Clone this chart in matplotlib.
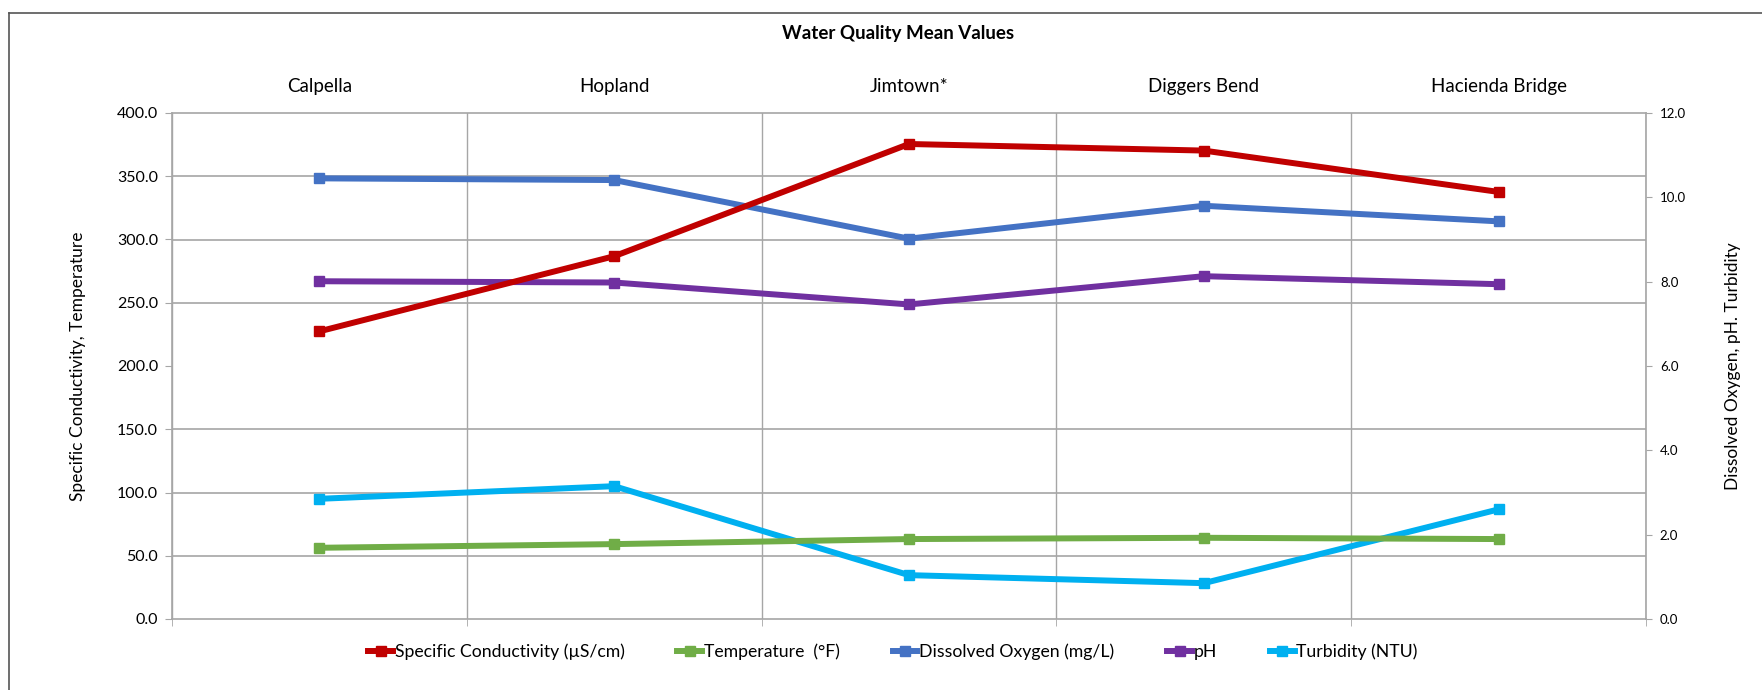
import numpy as np
import matplotlib
matplotlib.use("Agg")
import matplotlib.pyplot as plt
from matplotlib.lines import Line2D

plt.rcParams['font.family'] = ['Lato', 'DejaVu Sans']

sites = ['Calpella', 'Hopland', 'Jimtown*', 'Diggers Bend', 'Hacienda Bridge']

# left axis series
conductivity = [227.4, 286.8, 375.5, 370.3, 337.6]
temperature = [56.3, 59.2, 63.2, 64.2, 63.2]

# right axis series
dissolved_oxygen = [10.45, 10.41, 9.02, 9.80, 9.43]
ph = [8.01, 7.98, 7.46, 8.13, 7.94]
turbidity = [2.85, 3.15, 1.04, 0.85, 2.60]

GRID = '#A6A6A6'
LW = 4.3
MS = 6.5

fig = plt.figure(figsize=(17.62, 6.9), dpi=100)

# base axes carries the right-hand scale, drawn underneath
base = fig.add_axes([172 / 1762, 1 - 619 / 690, (1646 - 172) / 1762, (619 - 113) / 690])
top = base.twinx()
base.set_zorder(1)
top.set_zorder(2)
top.patch.set_visible(False)

x = np.arange(len(sites))

base.plot(x, dissolved_oxygen, color='#4472C4', lw=LW, marker='s', ms=MS, label='Dissolved Oxygen (mg/L)')
base.plot(x, ph, color='#7030A0', lw=LW, marker='s', ms=MS, label='pH')
base.plot(x, turbidity, color='#00B0F0', lw=LW, marker='s', ms=MS, label='Turbidity (NTU)')

top.plot(x, conductivity, color='#C00000', lw=LW, marker='s', ms=MS, label='Specific Conductivity (µS/cm)')
top.plot(x, temperature, color='#70AD47', lw=LW, marker='s', ms=MS, label='Temperature  (°F)')

base.set_xlim(-0.5, len(sites) - 0.5)
base.set_ylim(0, 12)
top.set_ylim(0, 400)

# right scale on base
base.yaxis.tick_right()
base.yaxis.set_label_position('right')
base.set_yticks(np.arange(0, 12.1, 2))
base.set_yticklabels(['%.1f' % v for v in np.arange(0, 12.1, 2)])
base.tick_params(axis='y', which='major', direction='out', length=4, color=GRID,
                 labelsize=9.5, pad=6)
base.set_ylabel('Dissolved Oxygen, pH. Turbidity', fontsize=12.5, labelpad=28)

# horizontal grid matching the left scale (every 50 -> every 1.5)
base.set_yticks(np.arange(0, 12.1, 1.5), minor=True)
base.tick_params(axis='y', which='minor', length=0)
base.grid(True, axis='y', which='minor', color=GRID, lw=1.2)

# category labels on top, boundaries as minor ticks
base.set_xticks(x)
base.set_xticklabels(sites)
base.xaxis.tick_top()
base.tick_params(axis='x', which='major', length=0, labelsize=13.5, pad=13)
base.set_xticks(np.arange(-0.5, len(sites), 1), minor=True)
base.tick_params(axis='x', which='minor', bottom=True, top=False, direction='out',
                 length=5, color=GRID)
base.grid(True, axis='x', which='minor', color=GRID, lw=1)

# left scale on top axes
top.yaxis.tick_left()
top.yaxis.set_label_position('left')
top.set_yticks(np.arange(0, 401, 50))
top.set_yticklabels(['%.1f' % v for v in np.arange(0, 401, 50)])
top.tick_params(axis='y', direction='out', length=5, color=GRID, labelsize=11.5, pad=5)
top.set_ylabel('Specific Conductivity, Temperature', fontsize=12.5, labelpad=22)
top.tick_params(axis='x', which='both', bottom=False, top=False, labelbottom=False, labeltop=False)

for s in top.spines.values():
    s.set_visible(False)
for s in base.spines.values():
    s.set_color(GRID)
    s.set_linewidth(1.2)

fig.text(898 / 1762, 1 - 33 / 690, 'Water Quality Mean Values', ha='center', va='center',
         fontsize=13.5, fontweight='bold')

order = ['Specific Conductivity (µS/cm)', 'Temperature  (°F)', 'Dissolved Oxygen (mg/L)', 'pH', 'Turbidity (NTU)']
handles = {}
for a in (base, top):
    for h in a.get_lines():
        handles[h.get_label()] = h
leg_handles = [Line2D([], [], color=handles[k].get_color(), lw=LW, marker='s', ms=MS) for k in order]
fig.legend(leg_handles, order, loc='center', bbox_to_anchor=(893 / 1762, 1 - 652 / 690),
           ncol=5, frameon=False, fontsize=12.7, handlelength=1.4, handletextpad=0.1,
           columnspacing=3.0)

# chart frame (left and top edges)
fig.add_artist(Line2D([9 / 1762, 9 / 1762], [0, 1 - 13 / 690], color='#555555', lw=1.2))
fig.add_artist(Line2D([9 / 1762, 1], [1 - 13 / 690, 1 - 13 / 690], color='#555555', lw=1.2))

fig.savefig('out.png', dpi=100)
